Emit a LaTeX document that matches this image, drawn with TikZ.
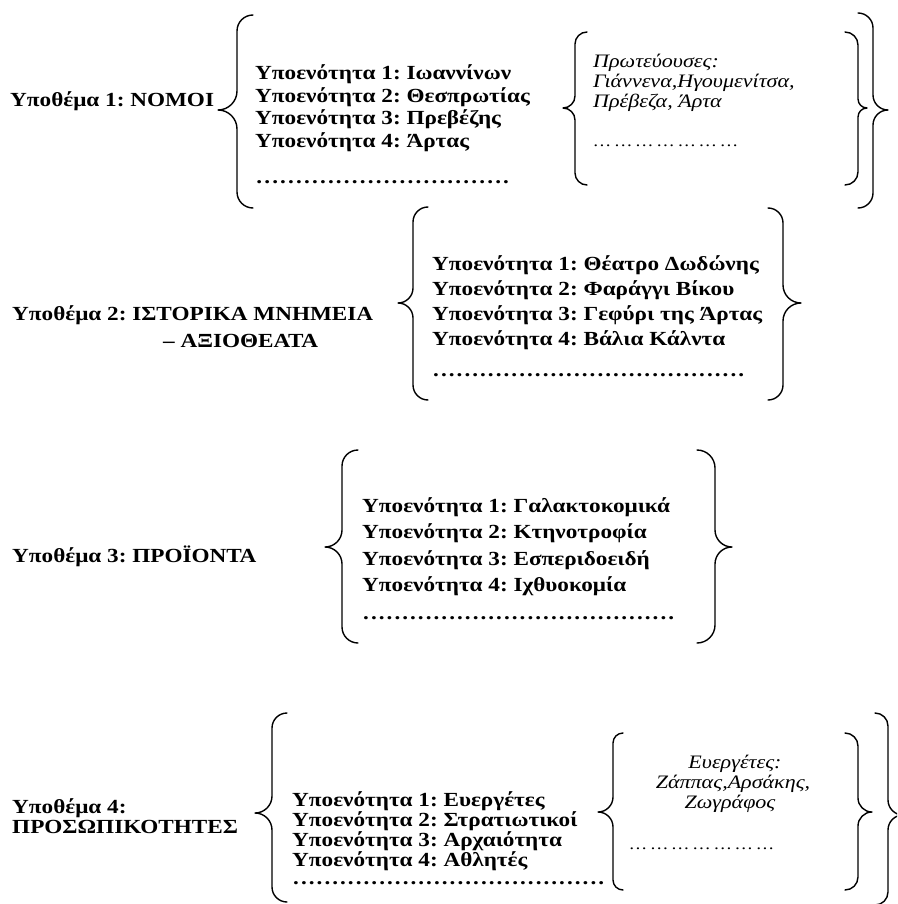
\documentclass[tikz,border=0pt]{standalone}
\usepackage{fontspec}
\setmainfont{Liberation Serif}[FakeStretch=1.16]
\frenchspacing
% left brace: stem x, top y, tip y, bottom y, tip depth, end curl
\newcommand\BrL[6]{%
  \draw[bracepath] ({#1+#6},#2) .. controls ({#1+0.448*#6},#2) and (#1,{#2+0.448*#6}) .. (#1,{#2+#6})
    -- (#1,{#3-#5}) .. controls (#1,{#3-0.448*#5}) and ({#1-0.448*#5},#3) .. ({#1-#5},#3)
    .. controls ({#1-0.448*#5},#3) and (#1,{#3+0.448*#5}) .. (#1,{#3+#5})
    -- (#1,{#4-#6}) .. controls (#1,{#4-0.448*#6}) and ({#1+0.448*#6},#4) .. ({#1+#6},#4);}
% right brace
\newcommand\BrR[6]{%
  \draw[bracepath] ({#1-#6},#2) .. controls ({#1-0.448*#6},#2) and (#1,{#2+0.448*#6}) .. (#1,{#2+#6})
    -- (#1,{#3-#5}) .. controls (#1,{#3-0.448*#5}) and ({#1+0.448*#5},#3) .. ({#1+#5},#3)
    .. controls ({#1+0.448*#5},#3) and (#1,{#3+0.448*#5}) .. (#1,{#3+#5})
    -- (#1,{#4-#6}) .. controls (#1,{#4-0.448*#6}) and ({#1-0.448*#6},#4) .. ({#1-#6},#4);}
\newcommand\dotrow[1]{\hbox to #1pt{\xleaders\hbox to 7.8pt{\hss.\hss}\hfill}}
\tikzset{
  bracepath/.style={line width=1.4pt, line cap=round, line join=round},
  txt/.style={inner sep=0pt, anchor=base west, font=\bfseries\fontsize{20}{20}\selectfont},
  itx/.style={inner sep=0pt, anchor=base west, font=\itshape\fontsize{19}{19}\selectfont},
  itc/.style={inner sep=0pt, anchor=base, font=\itshape\fontsize{19}{19}\selectfont},
  ell/.style={inner sep=0pt, anchor=base west, font=\itshape\fontsize{16}{16}\selectfont},
}
\begin{document}
\begin{tikzpicture}[x=1pt,y=-1pt]
\useasboundingbox (0,0) rectangle (897,904);
\clip (0,0) rectangle (897,904);
% ---------- Group 1
\node[txt] (l1) at (10,106.5) {Υποθέμα 1: ΝΟΜΟΙ};
\BrL{237}{15}{110}{208}{19}{16}
\node[txt] (a1) at (255,80) {Υποενότητα 1: Ιωαννίνων};
\node[txt] (a2) at (255,102.5) {Υποενότητα 2: Θεσπρωτίας};
\node[txt] (a3) at (255,125) {Υποενότητα 3: Πρεβέζης};
\node[txt] (a4) at (255,147.5) {Υποενότητα 4: Άρτας};
\node[txt] (a5) at (255,183.5) {\dotrow{255}};
\BrL{575}{32}{108}{185}{12}{12}
\node[itx] (p1) at (593,68) {Πρωτεύουσες:};
\node[itx] (p2) at (593,88) {Γιάννενα,Ηγουμενίτσα,};
\node[itx] (p3) at (593,108) {Πρέβεζα, Άρτα};
\node[ell] (p4) at (594,146.5) {… … … … … … …};
\BrR{858}{32}{108}{185}{9}{13}
\BrR{873}{13}{110}{208}{15}{15}
% ---------- Group 2
\node[txt] (l2a) at (12,320) {Υποθέμα 2: ΙΣΤΟΡΙΚΑ ΜΝΗΜΕΙΑ};
\node[txt] (l2b) at (163,347) {– ΑΞΙΟΘΕΑΤΑ};
\BrL{413}{207}{303}{400}{15}{15}
\node[txt] (b1) at (432,270) {Υποενότητα 1: Θέατρο Δωδώνης};
\node[txt] (b2) at (432,295) {Υποενότητα 2: Φαράγγι Βίκου};
\node[txt] (b3) at (432,320) {Υποενότητα 3: Γεφύρι της Άρτας};
\node[txt] (b4) at (432,345) {Υποενότητα 4: Βάλια Κάλντα};
\node[txt] (b5) at (432,376.5) {\dotrow{313}};
\BrR{783}{208}{303}{400}{18}{15}
% ---------- Group 3
\node[txt] (l3) at (12,562) {Υποθέμα 3: ΠΡΟΪΟΝΤΑ};
\BrL{342}{450}{547}{643}{17}{16}
\node[txt] (c1) at (362,512) {Υποενότητα 1: Γαλακτοκομικά};
\node[txt] (c2) at (362,538.5) {Υποενότητα 2: Κτηνοτροφία};
\node[txt] (c3) at (362,565) {Υποενότητα 3: Εσπεριδοειδή};
\node[txt] (c4) at (362,591.5) {Υποενότητα 4: Ιχθυοκομία};
\node[txt] (c5) at (362,619.5) {\dotrow{313}};
\BrR{715}{450}{547}{643}{17}{18}
% ---------- Group 4
\node[txt] (l4a) at (12,813) {Υποθέμα 4:};
\node[txt] (l4b) at (12,833) {ΠΡΟΣΩΠΙΚΟΤΗΤΕΣ};
\BrL{272}{713}{813}{902}{17}{15}
\node[txt] (d1) at (292,806.5) {Υποενότητα 1: Ευεργέτες};
\node[txt] (d2) at (292,826.5) {Υποενότητα 2: Στρατιωτικοί};
\node[txt] (d3) at (292,846) {Υποενότητα 3: Αρχαιότητα};
\node[txt] (d4) at (292,866.5) {Υποενότητα 4: Αθλητές};
\node[txt] (d5) at (292,884.5) {\dotrow{313}};
\BrL{613}{733}{812}{890}{15}{10}
\node[itc] (e1) at (735,768) {Ευεργέτες:};
\node[itc] (e2) at (733,788) {Ζάππας,Αρσάκης,};
\node[itc] (e3) at (730,808) {Ζωγράφος};
\node[ell] (e4) at (630,849) {… … … … … … …};
\BrR{858}{733}{812}{890}{14}{13}
\BrR{888}{713}{815}{905}{15}{13}
\end{tikzpicture}
\end{document}
